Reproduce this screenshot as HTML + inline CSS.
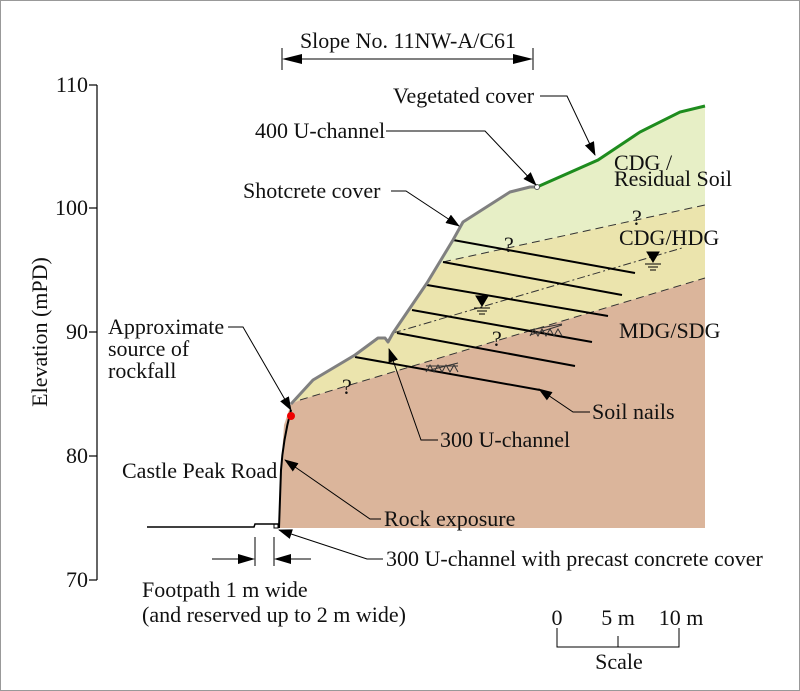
<!DOCTYPE html>
<html><head><meta charset="utf-8"><style>
html,body{margin:0;padding:0;background:#fff}
svg{display:block}
text{font-family:"Liberation Serif",serif;font-size:22px;fill:#111}
</style></head><body>
<svg width="800" height="691" viewBox="0 0 800 691" xmlns="http://www.w3.org/2000/svg">
<defs>
<marker id="ah" markerWidth="14" markerHeight="10" refX="13" refY="5" orient="auto" markerUnits="userSpaceOnUse">
<path d="M0,0 L14,5 L0,10 Z" fill="#000"/></marker>
</defs>
<rect x="0.5" y="0.5" width="799" height="690" fill="#fff" stroke="#999"/>
<polygon points="293,403 313,380 355,355 378,338 385,338 388,342 393,333 427,283 453,240 463,222 510,192 530,187 537,187 598,160 640,132 680,112 705,106 705,205 443,262 427,285 412,310 397,333" fill="#e7efc6"/>
<polygon points="443,262 705,205 705,278 300,400 293,403 313,380 355,355 378,338 385,338 388,342 393,333 427,283" fill="#ebe4ad"/>
<polygon points="291,404 300,400 705,278 705,528 279,528 281,470 284,425" fill="#dbb59b"/>
<line x1="300" y1="400" x2="705" y2="278" stroke="#333" stroke-width="1" stroke-dasharray="8,5"/>
<line x1="443" y1="262" x2="705" y2="205" stroke="#333" stroke-width="1" stroke-dasharray="8,5"/>
<line x1="393" y1="333" x2="682" y2="248" stroke="#333" stroke-width="1" stroke-dasharray="8,3,2,3"/>
<g stroke="#000" stroke-width="2">
<line x1="453" y1="240" x2="635" y2="273"/>
<line x1="443" y1="262" x2="622" y2="295"/>
<line x1="427" y1="285" x2="608" y2="316"/>
<line x1="412" y1="310" x2="592" y2="342"/>
<line x1="397" y1="333" x2="575" y2="366"/>
<line x1="355" y1="357" x2="540" y2="390"/>
</g>
<polyline points="291,404 313,380 355,355 378,338 385,338 388,342 393,333 427,283 453,240 463,222 510,192 530,187 537,187" fill="none" stroke="#808080" stroke-width="3" stroke-linejoin="round"/>
<polyline points="537,187 598,160 640,132 680,112 705,106" fill="none" stroke="#1e8c1e" stroke-width="3"/>
<circle cx="537" cy="187" r="2.5" fill="#fff" stroke="#555"/>
<path d="M291,410 Q283,440 281,470 L279,528" fill="none" stroke="#000" stroke-width="2"/>
<circle cx="291" cy="416" r="4" fill="#e00"/>
<polyline points="147,527 254,527 255,524 278,524 279,528" fill="none" stroke="#000" stroke-width="1.5"/>
<rect x="274" y="524" width="4" height="4" fill="none" stroke="#000"/>
<g stroke="#000" stroke-width="1">
<path d="M476,296 L488,296 L482,306 Z" fill="#000"/>
<line x1="474" y1="308" x2="490" y2="308"/><line x1="477" y1="311" x2="487" y2="311"/><line x1="479" y1="314" x2="485" y2="314"/>
<path d="M647,252 L659,252 L653,262 Z" fill="#000"/>
<line x1="645" y1="264" x2="661" y2="264"/><line x1="648" y1="267" x2="658" y2="267"/><line x1="650" y1="270" x2="656" y2="270"/>
</g>
<g stroke="#333" stroke-width="1" fill="none">
<path d="M426,372 l4,-7 l4,7 l4,-7 l4,7 l4,-7 l4,7 l4,-7 l4,7 M426,366 l32,0 M426,371 l32,-8"/>
<path d="M530,336 l4,-7 l4,7 l4,-7 l4,7 l4,-7 l4,7 l4,-7 l4,7 M530,330 l32,-6 M530,335 l32,-10"/>
</g>
<g font-size="18"><text x="342" y="394">?</text><text x="504" y="252">?</text><text x="492" y="346">?</text><text x="632" y="225">?</text></g>
<g stroke="#000" stroke-width="1.2">
<line x1="97" y1="85" x2="97" y2="580"/>
<line x1="89" y1="85" x2="97" y2="85"/><line x1="89" y1="208" x2="97" y2="208"/><line x1="89" y1="332" x2="97" y2="332"/><line x1="89" y1="456" x2="97" y2="456"/><line x1="89" y1="580" x2="97" y2="580"/>
</g>
<g font-size="21" text-anchor="end"><text x="88" y="92">110</text><text x="88" y="215">100</text><text x="88" y="339">90</text><text x="88" y="463">80</text><text x="88" y="587">70</text></g>
<text transform="translate(47,332) rotate(-90)" text-anchor="middle" font-size="21">Elevation (mPD)</text>
<text x="408" y="48" text-anchor="middle">Slope No. 11NW-A/C61</text>
<g stroke="#000" stroke-width="1"><line x1="282" y1="48" x2="282" y2="70"/><line x1="533" y1="48" x2="533" y2="70"/>
<line x1="300" y1="59" x2="515" y2="59"/></g>
<path d="M282,59 L302,54 L302,64 Z"/><path d="M533,59 L513,54 L513,64 Z"/>
<g stroke="#000" stroke-width="1" fill="none">
<polyline points="540,96 567,96 595,155" marker-end="url(#ah)"/>
<polyline points="386,131 485,131 536,185" marker-end="url(#ah)"/>
<polyline points="391,191 406,191 459,226" marker-end="url(#ah)"/>
<polyline points="228,327 243,327 291,410" marker-end="url(#ah)"/>
<polyline points="590,412 573,412 539,389" marker-end="url(#ah)"/>
<polyline points="438,440 421,440 389,349" marker-end="url(#ah)"/>
<polyline points="381,519 370,519 285,460" marker-end="url(#ah)"/>
<polyline points="383,559 367,559 279,530" marker-end="url(#ah)"/>
<line x1="255" y1="537" x2="255" y2="566"/><line x1="274" y1="537" x2="274" y2="566"/>
<line x1="212" y1="559" x2="240" y2="559"/><line x1="289" y1="559" x2="311" y2="559"/>
<polyline points="557,628 557,647 679,647 679,628"/><line x1="618" y1="636" x2="618" y2="647"/>
</g>
<path d="M255,559 L238,554 L238,564 Z"/><path d="M274,559 L291,554 L291,564 Z"/>
<text x="393" y="103">Vegetated cover</text>
<text x="255" y="138">400 U-channel</text>
<text x="243" y="198">Shotcrete cover</text>
<text x="614" y="170" font-size="20">CDG /</text>
<text x="614" y="186" font-size="20">Residual Soil</text>
<text x="619" y="245">CDG/HDG</text>
<text x="619" y="338">MDG/SDG</text>
<text x="108" y="334">Approximate</text>
<text x="108" y="356">source of</text>
<text x="108" y="378">rockfall</text>
<text x="592" y="419">Soil nails</text>
<text x="440" y="447">300 U-channel</text>
<text x="122" y="478">Castle Peak Road</text>
<text x="384" y="526">Rock exposure</text>
<text x="386" y="566">300 U-channel with precast concrete cover</text>
<text x="142" y="597">Footpath 1 m wide</text>
<text x="142" y="622">(and reserved up to 2 m wide)</text>
<text x="557" y="625" text-anchor="middle">0</text>
<text x="618" y="625" text-anchor="middle">5 m</text>
<text x="681" y="625" text-anchor="middle">10 m</text>
<text x="619" y="669" text-anchor="middle">Scale</text>
</svg>
</body></html>
